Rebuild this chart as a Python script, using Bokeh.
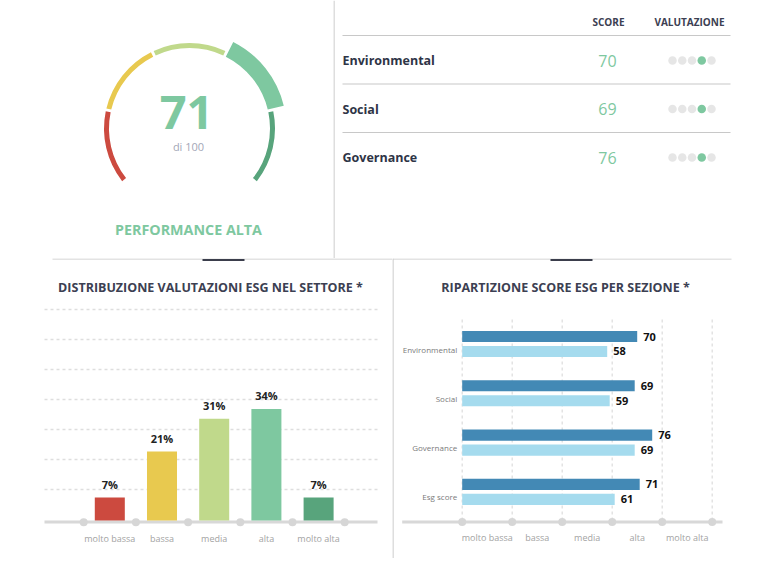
import math
from bokeh.plotting import figure
from bokeh.layouts import column, row
from bokeh.models import Range1d
from bokeh.core.properties import value
from bokeh.embed import file_html
from bokeh.resources import INLINE

FONT = value("Open Sans")

# ---------------- data ----------------
gauge_score = 71
gauge_max = 100
gauge_caption = "di 100"
performance_label = "PERFORMANCE ALTA"

bands = ["molto bassa", "bassa", "media", "alta", "molto alta"]
band_colors = ["#cc4a3f", "#e8c94f", "#c0d98b", "#7ec8a0", "#58a47c"]

table_header = ["SCORE", "VALUTAZIONE"]
table_sections = ["Environmental", "Social", "Governance"]
table_scores = [70, 69, 76]
table_ratings = [3, 3, 3]  # index into bands

dist_title = "DISTRIBUZIONE VALUTAZIONI ESG NEL SETTORE *"
dist_values = [7, 21, 31, 34, 7]

sec_title = "RIPARTIZIONE SCORE ESG PER SEZIONE *"
sec_labels = ["Environmental", "Social", "Governance", "Esg score"]
sec_company = [70, 69, 76, 71]
sec_sector = [58, 59, 69, 61]

LINE = "#c8c8c8"
DARK = "#3c4052"
GREEN = "#7ec8a0"


def make_fig(w, h, xr, yr):
    p = figure(width=w, height=h, x_range=xr, y_range=yr,
               x_axis_type=None, y_axis_type=None,
               output_backend="svg", toolbar_location=None,
               min_border=0, outline_line_color=None)
    p.extra_x_ranges = {"px": Range1d(0, w)}
    p.extra_y_ranges = {"px": Range1d(h, 0)}
    return p


PX = dict(x_range_name="px", y_range_name="px")

# ---------------- gauge ----------------
GW, GH = 333, 258
g = make_fig(GW, GH, Range1d(0, GW), Range1d(0, GH))
cx, cy = 189, 130
a0, sweep = 219.0, 258.0
gap = 1.0
n = len(bands)
step = gauge_max / n
for i, col in enumerate(band_colors):
    s0, s1 = i * step, (i + 1) * step
    start = math.radians(a0 - s1 / gauge_max * sweep + gap)
    end = math.radians(a0 - s0 / gauge_max * sweep - gap)
    thick = s0 <= gauge_score < s1
    g.annular_wedge(x=[cx], y=[cy], inner_radius=80.5,
                    outer_radius=97 if thick else 85.5,
                    start_angle=[start], end_angle=[end],
                    fill_color=col, line_color=None)
g.text(x=[186], y=[146], text=[str(gauge_score)], text_font=FONT,
       text_font_size="47px", text_font_style="bold", text_color=GREEN,
       text_align="center", text_baseline="middle")
g.text(x=[188], y=[112], text=[gauge_caption], text_font=FONT,
       text_font_size="11px", text_color="#a3a7b7",
       text_align="center", text_baseline="middle")
g.text(x=[188], y=[29], text=[performance_label], text_font=FONT,
       text_font_size="14.3px", text_font_style="bold", text_color=GREEN,
       text_align="center", text_baseline="middle")

# ---------------- table ----------------
TW, TH = 451, 258
t = make_fig(TW, TH, Range1d(0, TW), Range1d(TH, 0))
t.segment(x0=[0.5], y0=[0], x1=[0.5], y1=[TH], line_color=LINE, line_width=1.2)
t.text(x=[275, 356], y=[21, 21], text=table_header, text_font=FONT,
       text_font_size="10px", text_font_style="bold", text_color=DARK,
       text_align="center", text_baseline="middle")
row_h = 48.5
for k in range(len(table_sections)):
    yl = 35 + row_h * k
    t.segment(x0=[9], y0=[yl], x1=[397], y1=[yl], line_color=LINE, line_width=1.2)
ys = [60 + row_h * k for k in range(len(table_sections))]
t.text(x=[9] * len(ys), y=ys, text=table_sections, text_font=FONT,
       text_font_size="12.5px", text_font_style="bold", text_color="#2e3446",
       text_align="left", text_baseline="middle")
t.text(x=[274] * len(ys), y=ys, text=[str(v) for v in table_scores], text_font=FONT,
       text_font_size="16px", text_color=GREEN,
       text_align="center", text_baseline="middle")
dx, dy, dc = [], [], []
for k, r in enumerate(table_ratings):
    for j in range(n):
        dx.append(339 + 9.75 * j)
        dy.append(ys[k])
        dc.append(GREEN if j == r else "#e6e6e6")
t.scatter(x=dx, y=dy, size=8.5, fill_color=dc, line_color=None)

# ---------------- distribution chart ----------------
BW, BH = 392, 300
cat_sp = 52.2
c0 = 109.3
zero_py = 262
ppu = 3.28
b = make_fig(BW, BH,
             Range1d(-c0 / cat_sp, (BW - c0) / cat_sp),
             Range1d(-(BH - zero_py) / ppu, zero_py / ppu))
b.segment(x0=[52], y0=[0.5], x1=[BW], y1=[0.5], line_color=LINE, line_width=1.2, **PX)
b.segment(x0=[202], y0=[1.5], x1=[244], y1=[1.5], line_color="#3b3e4c", line_width=2, **PX)
b.text(x=[210], y=[29], text=[dist_title], text_font=FONT, text_font_size="12.5px",
       text_font_style="bold", text_color=DARK, text_align="center",
       text_baseline="middle", **PX)
gy = [51 + 30 * k for k in range(7)]
b.segment(x0=[44] * 7, y0=gy, x1=[377] * 7, y1=gy, line_color="#dedede",
          line_width=1.3, line_dash="3 3", **PX)
b.segment(x0=[44], y0=[263.5], x1=[377], y1=[263.5], line_color="#d8d8d8",
          line_width=3, **PX)
xs = list(range(n))
b.vbar(x=xs, top=dist_values, bottom=0, width=0.575, fill_color=band_colors,
       line_color=None)
b.scatter(x=[i - 0.5 for i in range(n + 1)], y=[-0.5] * (n + 1), size=8,
          fill_color="#d6d6d6", line_color=None)
b.text(x=xs, y=dist_values, text=[f"{v}%" for v in dist_values], text_font=FONT,
       text_font_size="11px", text_font_style="bold", text_color="#222222",
       text_align="center", text_baseline="bottom", y_offset=-6)
b.text(x=xs, y=[-5.4] * n, text=bands, text_font=FONT, text_font_size="9px",
       text_color="#a3a3a3", text_align="center", text_baseline="middle")

# ---------------- section chart ----------------
RW, RH = 392, 300
x0p, xppu = 69.7, 2.5
y0p, ysp = 85.5, 49.3
h = make_fig(RW, RH,
             Range1d(-x0p / xppu, (RW - x0p) / xppu),
             Range1d((RH - y0p) / ysp, -y0p / ysp))
h.segment(x0=[0], y0=[0.5], x1=[339], y1=[0.5], line_color=LINE, line_width=1.2, **PX)
h.segment(x0=[0.5], y0=[0], x1=[0.5], y1=[RH], line_color=LINE, line_width=1.2, **PX)
h.segment(x0=[158], y0=[1.5], x1=[200], y1=[1.5], line_color="#3b3e4c", line_width=2, **PX)
h.text(x=[173], y=[29], text=[sec_title], text_font=FONT, text_font_size="12.5px",
       text_font_style="bold", text_color=DARK, text_align="center",
       text_baseline="middle", **PX)
gx = [0, 20, 40, 60, 80, 100]
base_y = (263.5 - y0p) / ysp
top_y = (61 - y0p) / ysp
h.segment(x0=gx, y0=[top_y] * len(gx), x1=gx, y1=[base_y] * len(gx),
          line_color="#dedede", line_width=1.3, line_dash="3 3")
h.segment(x0=[(9.7 - x0p) / xppu], y0=[base_y], x1=[(330 - x0p) / xppu], y1=[base_y],
          line_color="#d8d8d8", line_width=3)
h.scatter(x=gx, y=[base_y] * len(gx), size=8, fill_color="#d6d6d6", line_color=None)
mids = [10, 30, 50, 70, 90]
h.text(x=mids, y=[(279 - y0p) / ysp] * len(mids), text=bands, text_font=FONT,
       text_font_size="9px", text_color="#a3a3a3", text_align="center",
       text_baseline="middle")
cy_ = list(range(len(sec_labels)))
off = 0.152
hh = 0.225
h.hbar(y=[c - off for c in cy_], right=sec_company, left=0, height=hh,
       fill_color="#4389b5", line_color=None)
h.hbar(y=[c + off for c in cy_], right=sec_sector, left=0, height=hh,
       fill_color="#a5dbee", line_color=None)
h.text(x=sec_company, y=[c - off for c in cy_], text=[str(v) for v in sec_company],
       text_font=FONT, text_font_size="11px", text_font_style="bold",
       text_color="#111111", text_align="left", text_baseline="middle", x_offset=6)
h.text(x=sec_sector, y=[c + off for c in cy_], text=[str(v) for v in sec_sector],
       text_font=FONT, text_font_size="11px", text_font_style="bold",
       text_color="#111111", text_align="left", text_baseline="middle", x_offset=6)
h.text(x=[-2] * len(sec_labels), y=cy_, text=sec_labels, text_font=FONT,
       text_font_size="8px", text_color="#7a7a7a", text_align="right",
       text_baseline="middle", y_offset=5)

layout = column(row(g, t), row(b, h))
open("out.html", "w").write(file_html(layout, INLINE))
